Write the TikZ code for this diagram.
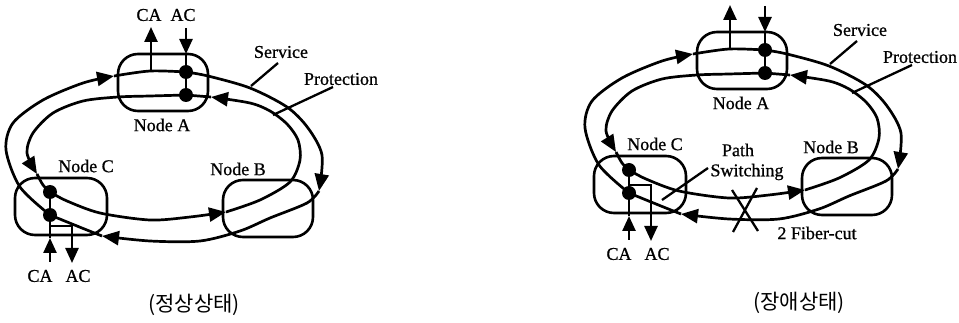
\documentclass[tikz,border=0pt]{standalone}
\usepackage{fontspec}
\setmainfont{Liberation Serif}[FakeBold=0.8]
\newfontfamily\hangul{Noto Sans CJK KR}
\usetikzlibrary{arrows.meta}

\tikzset{
  ring/.style={line width=2.7pt, line join=round},
  flow/.style={ring, -{Triangle[length=17pt,width=14pt]}},
  tapflow/.style={line width=2.5pt, -{Triangle[length=15pt,width=13pt]}},
  nodebox/.style={draw, line width=2.6pt, rounded corners=20pt,
    minimum width=90pt, minimum height=57pt, inner sep=0pt},
  joint/.style={circle, fill, inner sep=0pt, minimum size=14pt},
  lbl/.style={font=\fontsize{18}{20}\selectfont, inner sep=0pt},
  leader/.style={line width=2.3pt},
  caption/.style={font=\hangul\fontsize{21}{23}\selectfont, inner sep=0pt},
}

% Three-node ring with a service ring (clockwise) and a protection ring
% (counter-clockwise).
% #1 name prefix, #2 depth of the AC drop at Node C,
% #3 x of the Node B label, #4 x of the Node C label
\newcommand\ringsystem[4]{%
  % node enclosures
  \node[nodebox] (#1A) at (163,-82.5) {};
  \node[nodebox] (#1B) at (268,-208.5) {};
  \node[nodebox, minimum width=92pt] (#1C) at (61,-206.5) {};
  \node[lbl] (#1labA) at (162,-125) {Node A};
  \node[lbl] (#1labB) at (#3,-169) {Node B};
  \node[lbl] (#1labC) at (#4,-166) {Node C};
  % add/drop points
  \node[joint] (#1a1) at (186,-72) {};
  \node[joint] (#1a2) at (186,-95) {};
  \node[joint] (#1c1) at (50,-192) {};
  \node[joint] (#1c2) at (50,-215) {};
  % arrow positions on the rings
  \coordinate (#1s1) at (114,-76);
  \coordinate (#1s2) at (319,-191);
  \coordinate (#1s3) at (102,-236);
  \coordinate (#1p1) at (37,-174);
  \coordinate (#1p2) at (226,-212);
  \coordinate (#1p3) at (211,-97);
  % service ring
  \draw[flow] plot[smooth] coordinates {(#1c2.center) (20,-187) (6,-150) (13,-123) (43,-100) (83,-83) (#1s1)};
  \draw[ring] plot[smooth] coordinates {(#1s1) (150,-71) (#1a1.center)};
  \draw[flow] plot[smooth] coordinates {(#1a1.center) (208,-76) (250,-88) (287,-107) (308,-128) (322,-155) (#1s2)};
  \draw[flow] plot[smooth] coordinates {(#1s2) (307,-203) (270,-218) (240,-231) (200,-241) (150,-241) (#1s3)};
  \draw[ring] plot[smooth] coordinates {(#1s3) (77,-226) (#1c2.center)};
  % protection ring
  \draw[flow] plot[smooth] coordinates {(#1a2.center) (150,-96) (118,-97) (83,-101) (53,-113) (33,-133) (27,-153) (#1p1)};
  \draw[ring] plot[smooth] coordinates {(#1p1) (43,-185) (#1c1.center)};
  \draw[flow] plot[smooth] coordinates {(#1c1.center) (67,-201) (100,-213) (150,-220) (190,-217) (#1p2)};
  \draw[flow] plot[smooth] coordinates {(#1p2) (260,-200) (290,-182) (300,-160) (298,-140) (287,-124) (270,-111) (250,-103) (#1p3)};
  \draw[ring] (#1p3) -- (#1a2.center);
  % add/drop at Node A
  \coordinate (#1caAs) at (151,-71);
  \coordinate (#1caAt) at (151,-27);
  \coordinate (#1acAs) at (186,-28);
  \coordinate (#1acAt) at (186,-54);
  \draw[tapflow] (#1caAs) -- (#1caAt);
  \draw[tapflow] (#1acAs) -- (#1acAt);
  \draw[ring] (#1acAt) -- (#1a1.center) -- (#1a2.center);
  \node[lbl] (#1tCA) at (149,-15) {CA};
  \node[lbl] (#1tAC) at (183,-15) {AC};
  % add/drop at Node C
  \coordinate (#1caCs) at (50,-262);
  \coordinate (#1caCt) at (50,-238);
  \coordinate (#1tap) at (50,-#2);
  \coordinate (#1acCt) at (72,-263);
  \draw[tapflow] (#1caCs) -- (#1caCt);
  \draw[ring] (#1c1.center) -- (#1c2.center) -- (#1caCt);
  \draw[tapflow] (#1tap) -| (#1acCt);
  \node[lbl] (#1bCA) at (40,-276) {CA};
  \node[lbl] (#1bAC) at (78,-276) {AC};
  % ring names
  \node[lbl] (#1srv) at (281,-52) {Service};
  \node[lbl] (#1prt) at (341,-79) {Protection};
  \coordinate (#1srvA) at (251,-86);
  \coordinate (#1srvB) at (278,-63);
  \coordinate (#1prtA) at (273,-115);
  \coordinate (#1prtB) at (333,-87);
  \draw[leader] (#1srvA) -- (#1srvB);
  \draw[leader] (#1prtA) -- (#1prtB);
}

\begin{document}
\begin{tikzpicture}[x=1pt,y=1pt]
  \useasboundingbox (0,0) rectangle (959,-323);
  \clip (0,0) rectangle (959,-323);

  % normal state
  \begin{scope}
    \ringsystem{L-}{226}{238}{86}
  \end{scope}
  \node[caption] (capL) at (194,-305) {(정상상태)};

  % failure state
  \begin{scope}[shift={(579,22)}]
    \ringsystem{R-}{207}{252}{76}
    \node[lbl] (R-path) at (159,-172) {Path};
    \node[lbl] (R-switch) at (168,-194) {Switching};
    \coordinate (R-swA) at (83,-222);
    \coordinate (R-swB) at (129,-190);
    \draw[leader] (R-swA) -- (R-swB);
    % fiber cut mark
    \coordinate (R-x1) at (153,-212);
    \coordinate (R-x2) at (179,-253);
    \coordinate (R-x3) at (178,-210);
    \coordinate (R-x4) at (154,-254);
    \draw[leader] (R-x1) -- (R-x2);
    \draw[leader] (R-x3) -- (R-x4);
    \node[lbl] (R-cut) at (238,-255) {2 Fiber-cut};
  \end{scope}
  \node[caption] (capR) at (799,-303) {(장애상태)};
\end{tikzpicture}
\end{document}
